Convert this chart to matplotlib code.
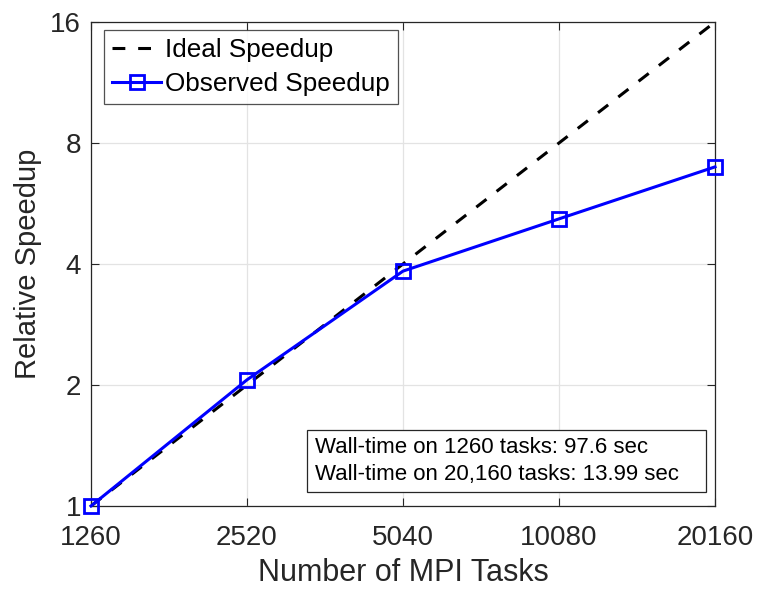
import matplotlib
matplotlib.use("Agg")
import matplotlib.pyplot as plt
from matplotlib.patches import Rectangle

plt.rcParams['font.family'] = ['Liberation Sans', 'DejaVu Sans']

tasks = [1260, 2520, 5040, 10080, 20160]
ideal = [1, 2, 4, 8, 16]
observed = [1.0, 2.06, 3.84, 5.18, 6.977]
yticks = [1, 2, 4, 8, 16]

fig = plt.figure(figsize=(7.6, 5.9), dpi=100)
ax = fig.add_axes([0.1197, 0.1424, 0.8211, 0.8203])

ax.plot(tasks, ideal, '--', color='black', lw=2.2, dashes=(4.2, 4.2), label='Ideal Speedup')
ax.plot(tasks, observed, '-s', color='#0000ff', lw=2.2, markersize=10,
        markerfacecolor='none', markeredgewidth=2, label='Observed Speedup',
        clip_on=False, zorder=5)

ax.set_xscale('log', base=2)
ax.set_yscale('log', base=2)
ax.set_xlim(tasks[0], tasks[-1])
ax.set_ylim(1, 16)
ax.set_xticks(tasks)
ax.set_xticklabels([str(t) for t in tasks])
ax.set_yticks(yticks)
ax.set_yticklabels([str(v) for v in yticks])
ax.minorticks_off()

ax.grid(True, color='#e3e3e3', lw=0.9)
ax.set_axisbelow(True)
for s in ax.spines.values():
    s.set_color('#262626')
    s.set_linewidth(0.9)
ax.tick_params(which='both', direction='in', top=True, right=True, length=6,
               color='#262626', labelsize=20, labelcolor='#262626')
ax.tick_params(axis='x', pad=14)
ax.tick_params(axis='y', pad=7)

ax.set_xlabel('Number of MPI Tasks', fontsize=22, color='#262626', labelpad=5)
ax.set_ylabel('Relative Speedup', fontsize=21, color='#262626', labelpad=6)

leg = ax.legend(loc='upper left', bbox_to_anchor=(0.0208, 0.9835), borderaxespad=0,
                fontsize=18.8, frameon=True, fancybox=False,
                edgecolor='#262626', handlelength=1.9,
                handletextpad=0.15, borderpad=0.3, labelspacing=0.4)
leg.get_frame().set_linewidth(0.9)
leg.set_zorder(10)

# annotation box with wall-clock timings
ax.add_patch(Rectangle((0.346, 0.029), 0.6396, 0.128, transform=ax.transAxes,
                       facecolor='white', edgecolor='#262626', lw=0.9, zorder=8))
ax.text(0.359, 0.093,
        'Wall-time on 1260 tasks: 97.6 sec\nWall-time on 20,160 tasks: 13.99 sec',
        transform=ax.transAxes, fontsize=16, color='black', linespacing=1.4,
        va='center', ha='left', zorder=9)

fig.savefig('out.png', dpi=100)
